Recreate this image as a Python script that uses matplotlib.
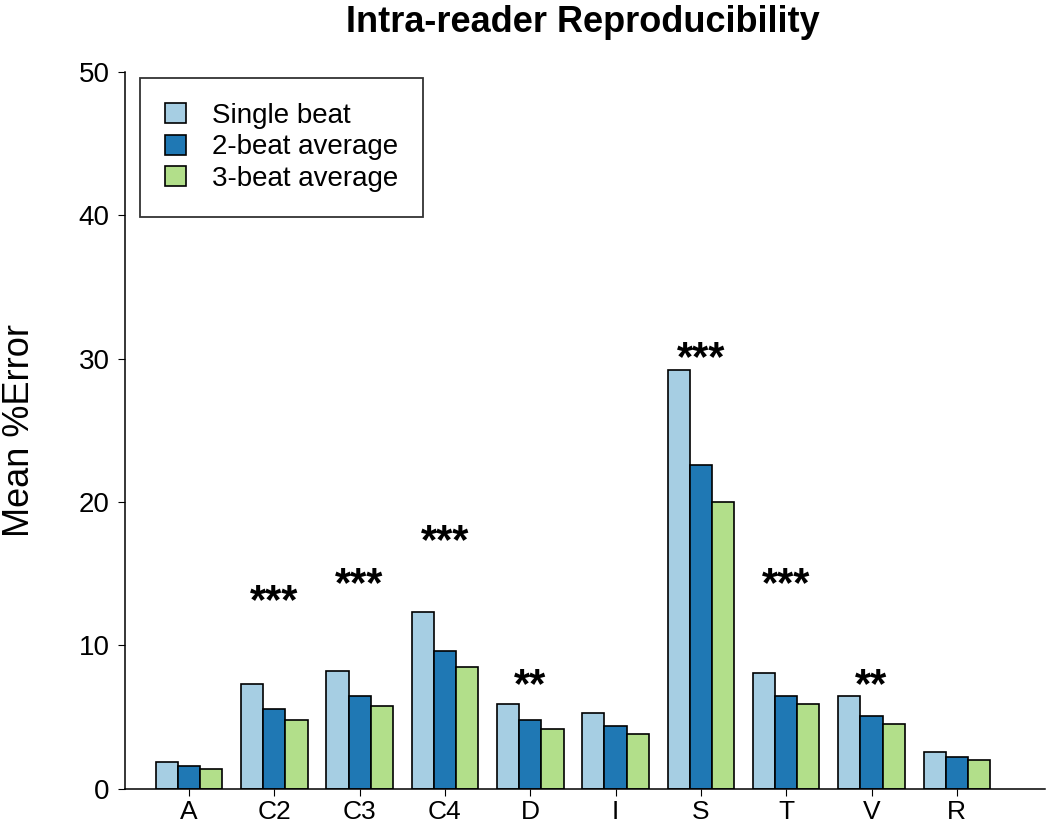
import matplotlib
matplotlib.use('Agg')
import matplotlib.pyplot as plt
import numpy as np

plt.rcParams['font.family'] = ['Liberation Sans', 'DejaVu Sans']

# data
categories = ['A', 'C2', 'C3', 'C4', 'D', 'I', 'S', 'T', 'V', 'R']
single_beat = [1.9, 7.3, 8.2, 12.3, 5.9, 5.3, 29.2, 8.1, 6.5, 2.6]
two_beat = [1.6, 5.6, 6.5, 9.6, 4.8, 4.4, 22.6, 6.5, 5.1, 2.2]
three_beat = [1.4, 4.8, 5.8, 8.5, 4.2, 3.8, 20.0, 5.9, 4.5, 2.0]
series_names = ['Single beat', '2-beat average', '3-beat average']
colors = ['#a6cee3', '#1f78b4', '#b2df8a']

# significance marks
sig_labels = ['', '***', '***', '***', '**', '', '***', '***', '**', '']
sig_heights = [0, 13.0, 14.2, 17.2, 7.2, 0, 30.0, 14.2, 7.2, 0]

fig = plt.figure(figsize=(10.5, 8.26), dpi=100)
ax = fig.add_axes([0.119, 0.045, 0.876, 0.868])

x = np.arange(len(categories))
w = 0.26
for i, (vals, name) in enumerate(zip([single_beat, two_beat, three_beat], series_names)):
    ax.bar(x + (i - 1) * w, vals, width=w, color=colors[i], edgecolor='black',
           linewidth=1.2, label=name)

for xi, lab, h in zip(x, sig_labels, sig_heights):
    if lab:
        ax.text(xi, h, lab, ha='center', va='center', fontsize=30, fontweight='bold')

ax.set_xlim(-0.75, 10.03)
ax.set_ylim(0, 50)
ax.set_xticks(x)
ax.set_xticklabels(categories, fontsize=19)
ax.set_yticks([0, 10, 20, 30, 40, 50])
ax.tick_params(axis='y', labelsize=20, length=5, pad=6)
ax.tick_params(axis='x', length=5, pad=3)
ax.spines['top'].set_visible(False)
ax.spines['right'].set_visible(False)
ax.spines['left'].set_linewidth(1.1)
ax.spines['bottom'].set_linewidth(1.1)
ax.set_ylabel('Mean %Error', fontsize=26, labelpad=30)

leg = ax.legend(loc='upper left', bbox_to_anchor=(0.0163, 0.9916), fontsize=20, frameon=True,
                fancybox=False, edgecolor='black', borderpad=0.9, handlelength=0.75,
                handleheight=0.75, handletextpad=0.95, labelspacing=0.2, borderaxespad=0)
leg.get_frame().set_linewidth(1.3)

fig.text(0.555, 0.973, 'Intra-reader Reproducibility', ha='center', va='center',
         fontsize=26, fontweight='bold')

fig.savefig('out.png', dpi=100)
